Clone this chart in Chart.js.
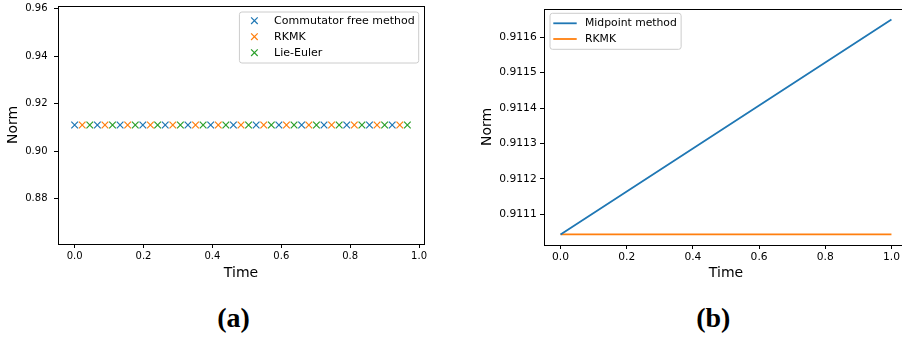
<!DOCTYPE html>
<html><head><meta charset="utf-8">
<script src="https://cdn.jsdelivr.net/npm/chart.js@4.4.1/dist/chart.umd.min.js"></script>
<style>
html,body{margin:0;padding:0;background:#fff;overflow:hidden;width:902px;height:338px;position:relative;}
.cap{position:absolute;font:bold 28px 'Liberation Serif',serif;line-height:28px;transform:translateX(-50%);color:#000;white-space:nowrap}
</style></head><body>
<canvas id="chartA" width="450" height="290" style="position:absolute;left:0;top:0"></canvas>
<canvas id="chartB" width="470" height="290" style="position:absolute;left:450px;top:0"></canvas>
<div class="cap" style="left:233.5px;top:303.6px">(a)</div>
<div class="cap" style="left:713.3px;top:303.6px">(b)</div>
<script>
// ---------- Panel (a) data ----------
const timeCommFree = [0.000,0.066,0.132,0.198,0.263,0.329,0.395,0.461,0.527,0.593,0.659,0.724,0.790,0.856,0.922];
const normCommFree = [0.9111,0.9111,0.9111,0.9111,0.9111,0.9111,0.9111,0.9111,0.9111,0.9111,0.9111,0.9111,0.9111,0.9111,0.9111];
const timeRKMK_a = [0.022,0.088,0.154,0.220,0.285,0.351,0.417,0.483,0.549,0.615,0.680,0.746,0.812,0.878,0.944];
const normRKMK_a = [0.9111,0.9111,0.9111,0.9111,0.9111,0.9111,0.9111,0.9111,0.9111,0.9111,0.9111,0.9111,0.9111,0.9111,0.9111];
const timeLieEuler = [0.044,0.110,0.176,0.241,0.307,0.373,0.439,0.505,0.571,0.637,0.702,0.768,0.834,0.900,0.966];
const normLieEuler = [0.9111,0.9111,0.9111,0.9111,0.9111,0.9111,0.9111,0.9111,0.9111,0.9111,0.9111,0.9111,0.9111,0.9111,0.9111];
const xTicksA = [0.0,0.2,0.4,0.6,0.8,1.0];
const yTicksA = [0.88,0.90,0.92,0.94,0.96];
const xRangeA = [-0.0483, 1.0143];
const yRangeA = [0.8610, 0.9612];

// ---------- Panel (b) data ----------
const timeB = [0.0,0.2,0.4,0.6,0.8,1.0];
const normMidpoint = [0.911043,0.911164,0.911286,0.911407,0.911529,0.911650];
const normRKMK_b = [0.911043,0.911043,0.911043,0.911043,0.911043,0.911043];
const xTicksB = [0.0,0.2,0.4,0.6,0.8,1.0];
const yTicksB = [0.9111,0.9112,0.9113,0.9114,0.9115,0.9116];
const xRangeB = [-0.05, 1.05];
const yRangeB = [0.911013, 0.911680];

const C_BLUE = '#1f77b4', C_ORANGE = '#ff7f0e', C_GREEN = '#2ca02c';
const FAM = "'DejaVu Sans', sans-serif";
Chart.defaults.color = '#000';
Chart.defaults.font.family = FAM;

const pts = (xs, ys) => xs.map((x, i) => ({x, y: ys[i]}));

const framePlugin = {
  id: 'frame',
  afterDatasetsDraw(chart) {
    const {ctx, chartArea: a} = chart;
    ctx.save();
    ctx.strokeStyle = '#000';
    ctx.lineWidth = 1;
    ctx.strokeRect(a.left + 0.5, a.top + 0.5, a.right - a.left, a.bottom - a.top);
    ctx.restore();
  }
};

const legendPlugin = {
  id: 'mplLegend',
  afterDatasetsDraw(chart, args, o) {
    if (!o || !o.show) return;
    const {ctx, chartArea: a} = chart;
    ctx.save();
    ctx.font = o.font;
    const items = chart.data.datasets.map(d => ({label: d.label, color: d.borderColor}));
    const tw = Math.max(...items.map(i => ctx.measureText(i.label).width));
    const w = o.textX + tw + o.padRight;
    const h = o.height;
    const left = o.corner === 'tr' ? a.right - o.dx - w : a.left + o.dx;
    const top = a.top + o.dy;
    const r = 2.5;
    ctx.beginPath();
    ctx.moveTo(left + r, top);
    ctx.lineTo(left + w - r, top);
    ctx.arcTo(left + w, top, left + w, top + r, r);
    ctx.lineTo(left + w, top + h - r);
    ctx.arcTo(left + w, top + h, left + w - r, top + h, r);
    ctx.lineTo(left + r, top + h);
    ctx.arcTo(left, top + h, left, top + h - r, r);
    ctx.lineTo(left, top + r);
    ctx.arcTo(left, top, left + r, top, r);
    ctx.closePath();
    ctx.fillStyle = 'rgba(255,255,255,0.8)';
    ctx.fill();
    ctx.strokeStyle = '#cccccc';
    ctx.lineWidth = 1;
    ctx.stroke();
    items.forEach((it, i) => {
      const y = top + o.firstRow + i * o.rowGap;
      ctx.strokeStyle = it.color;
      if (o.handle === 'x') {
        const cx = left + o.handleX, s = 3.3;
        ctx.lineWidth = 1.2;
        ctx.beginPath();
        ctx.moveTo(cx - s, y - s); ctx.lineTo(cx + s, y + s);
        ctx.moveTo(cx - s, y + s); ctx.lineTo(cx + s, y - s);
        ctx.stroke();
      } else {
        ctx.lineWidth = 1.8;
        ctx.beginPath();
        ctx.moveTo(left + o.lineX0, y); ctx.lineTo(left + o.lineX1, y);
        ctx.stroke();
      }
      ctx.fillStyle = '#000';
      ctx.textBaseline = 'middle';
      ctx.textAlign = 'left';
      ctx.fillText(it.label, left + o.textX, y);
    });
    ctx.restore();
  }
};

function axes(cfg) {
  return {
    x: {
      type: 'linear', min: cfg.xRange[0], max: cfg.xRange[1],
      afterBuildTicks: s => { s.ticks = cfg.xTicks.map(v => ({value: v})); },
      afterFit: s => { s.height = cfg.xH; s.paddingLeft = 0; s.paddingRight = 0; },
      ticks: { autoSkip: false, maxRotation: 0, minRotation: 0, padding: cfg.xPad,
               font: {family: FAM, size: cfg.tickSize}, color: '#000',
               callback: v => Number(v).toFixed(1) },
      grid: { drawOnChartArea: false, drawTicks: true, tickLength: 4, tickColor: '#000', tickWidth: 1 },
      border: { display: false },
      title: { display: true, text: 'Time', color: '#000', font: {family: FAM, size: cfg.titleSize},
               padding: {top: 0, bottom: cfg.xTitlePad} }
    },
    y: {
      type: 'linear', min: cfg.yRange[0], max: cfg.yRange[1],
      afterBuildTicks: s => { s.ticks = cfg.yTicks.map(v => ({value: v})); },
      afterFit: s => { s.width = cfg.yW; s.paddingTop = 0; s.paddingBottom = 0; },
      ticks: { autoSkip: false, padding: cfg.yPad, font: {family: FAM, size: cfg.tickSize}, color: '#000',
               callback: v => Number(v).toFixed(cfg.yDec) },
      grid: { drawOnChartArea: false, drawTicks: true, tickLength: 4, tickColor: '#000', tickWidth: 1 },
      border: { display: false },
      title: { display: true, text: 'Norm', color: '#000', font: {family: FAM, size: cfg.titleSize},
               padding: {top: cfg.yTitlePad, bottom: 0} }
    }
  };
}

const markerDs = (label, color, xs, ys) => ({
  label, data: pts(xs, ys), borderColor: color, backgroundColor: color,
  pointStyle: 'crossRot', pointRadius: 4.7, pointBorderWidth: 1.2, pointHoverRadius: 4.7, showLine: false
});

new Chart(document.getElementById('chartA'), {
  type: 'scatter',
  data: { datasets: [
    markerDs('Commutator free method', C_BLUE, timeCommFree, normCommFree),
    markerDs('RKMK', C_ORANGE, timeRKMK_a, normRKMK_a),
    markerDs('Lie-Euler', C_GREEN, timeLieEuler, normLieEuler)
  ]},
  options: {
    responsive: false, animation: false, events: [],
    layout: { padding: {left: 0, top: 6, right: 26, bottom: 0} },
    plugins: {
      legend: {display: false}, tooltip: {enabled: false},
      mplLegend: { show: true, corner: 'tr', dx: 5.3, dy: 6, height: 51, font: "11px " + FAM,
                   handle: 'x', handleX: 15, textX: 34.7, padRight: 4, firstRow: 8.7, rowGap: 16 }
    },
    scales: axes({ xRange: xRangeA, yRange: yRangeA, xTicks: xTicksA, yTicks: yTicksA, xH: 46, yW: 58,
                   xPad: 2.7, yPad: 6.5, tickSize: 10, titleSize: 14, xTitlePad: 8.6, yTitlePad: 5.3, yDec: 2 })
  },
  plugins: [framePlugin, legendPlugin]
});

const lineDs = (label, color, xs, ys) => ({
  label, data: pts(xs, ys), borderColor: color, backgroundColor: color,
  borderWidth: 1.8, pointRadius: 0, showLine: true, tension: 0
});

new Chart(document.getElementById('chartB'), {
  type: 'scatter',
  data: { datasets: [
    lineDs('Midpoint method', C_BLUE, timeB, normMidpoint),
    lineDs('RKMK', C_ORANGE, timeB, normRKMK_b)
  ]},
  options: {
    responsive: false, animation: false, events: [],
    layout: { padding: {left: 0, top: 9, right: 12, bottom: 0} },
    plugins: {
      legend: {display: false}, tooltip: {enabled: false},
      mplLegend: { show: true, corner: 'tl', dx: 6, dy: 4.3, height: 36, font: "10.8px " + FAM,
                   handle: 'line', lineX0: 3.3, lineX1: 26.7, textX: 35, padRight: 4.3, firstRow: 10, rowGap: 15.7 }
    },
    scales: axes({ xRange: xRangeB, yRange: yRangeB, xTicks: xTicksB, yTicks: yTicksB, xH: 45, yW: 94,
                   xPad: 2.1, yPad: 3.3, tickSize: 10.7, titleSize: 14, xTitlePad: 8.6, yTitlePad: 29.1, yDec: 4 })
  },
  plugins: [framePlugin, legendPlugin]
});
</script>
</body></html>
